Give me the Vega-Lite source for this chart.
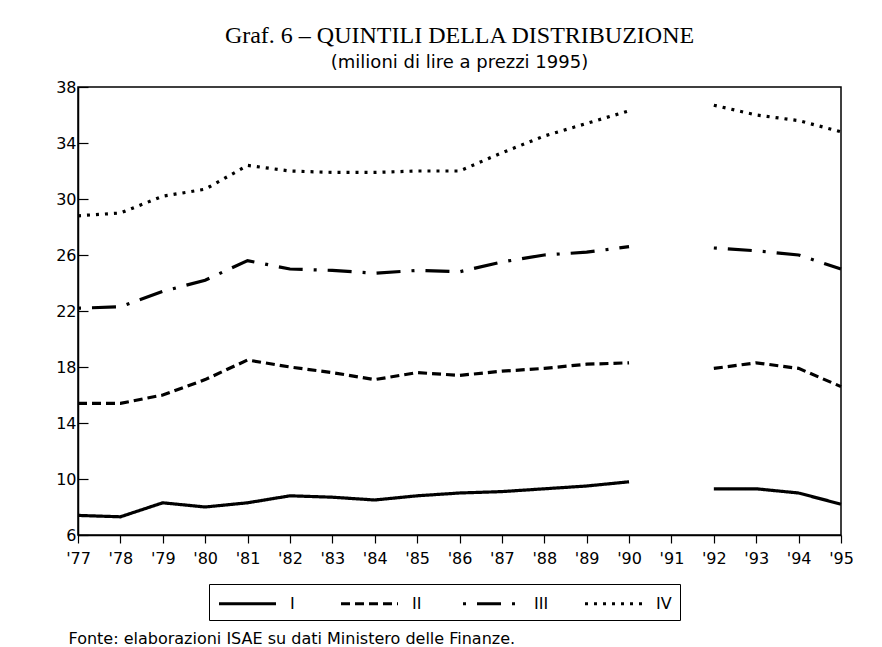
{
  "$schema": "https://vega.github.io/schema/vega-lite/v6.json",
  "autosize": "none",
  "width": 763,
  "height": 448,
  "padding": {"left": 78, "top": 87, "right": 41, "bottom": 112},
  "background": "white",
  "title": {
    "text": "Graf. 6 – QUINTILI DELLA DISTRIBUZIONE",
    "subtitle": "(milioni di lire a prezzi 1995)",
    "font": "Liberation Serif",
    "fontSize": 24,
    "fontWeight": "normal",
    "color": "black",
    "subtitleFont": "DejaVu Sans",
    "subtitleFontSize": 18,
    "subtitleColor": "black",
    "subtitlePadding": 6,
    "anchor": "middle",
    "offset": 7
  },
  "data": {
    "values": [
      {"year": 1977, "q": "I", "v": 7.4}, {"year": 1978, "q": "I", "v": 7.3}, {"year": 1979, "q": "I", "v": 8.3}, {"year": 1980, "q": "I", "v": 8.0}, {"year": 1981, "q": "I", "v": 8.3}, {"year": 1982, "q": "I", "v": 8.8}, {"year": 1983, "q": "I", "v": 8.7}, {"year": 1984, "q": "I", "v": 8.5}, {"year": 1985, "q": "I", "v": 8.8}, {"year": 1986, "q": "I", "v": 9.0}, {"year": 1987, "q": "I", "v": 9.1}, {"year": 1988, "q": "I", "v": 9.3}, {"year": 1989, "q": "I", "v": 9.5}, {"year": 1990, "q": "I", "v": 9.8}, {"year": 1991, "q": "I", "v": null}, {"year": 1992, "q": "I", "v": 9.3}, {"year": 1993, "q": "I", "v": 9.3}, {"year": 1994, "q": "I", "v": 9.0}, {"year": 1995, "q": "I", "v": 8.2},
      {"year": 1977, "q": "II", "v": 15.4}, {"year": 1978, "q": "II", "v": 15.4}, {"year": 1979, "q": "II", "v": 16.0}, {"year": 1980, "q": "II", "v": 17.1}, {"year": 1981, "q": "II", "v": 18.5}, {"year": 1982, "q": "II", "v": 18.0}, {"year": 1983, "q": "II", "v": 17.6}, {"year": 1984, "q": "II", "v": 17.1}, {"year": 1985, "q": "II", "v": 17.6}, {"year": 1986, "q": "II", "v": 17.4}, {"year": 1987, "q": "II", "v": 17.7}, {"year": 1988, "q": "II", "v": 17.9}, {"year": 1989, "q": "II", "v": 18.2}, {"year": 1990, "q": "II", "v": 18.3}, {"year": 1991, "q": "II", "v": null}, {"year": 1992, "q": "II", "v": 17.9}, {"year": 1993, "q": "II", "v": 18.3}, {"year": 1994, "q": "II", "v": 17.9}, {"year": 1995, "q": "II", "v": 16.6},
      {"year": 1977, "q": "III", "v": 22.2}, {"year": 1978, "q": "III", "v": 22.3}, {"year": 1979, "q": "III", "v": 23.4}, {"year": 1980, "q": "III", "v": 24.2}, {"year": 1981, "q": "III", "v": 25.6}, {"year": 1982, "q": "III", "v": 25.0}, {"year": 1983, "q": "III", "v": 24.9}, {"year": 1984, "q": "III", "v": 24.7}, {"year": 1985, "q": "III", "v": 24.9}, {"year": 1986, "q": "III", "v": 24.8}, {"year": 1987, "q": "III", "v": 25.5}, {"year": 1988, "q": "III", "v": 26.0}, {"year": 1989, "q": "III", "v": 26.2}, {"year": 1990, "q": "III", "v": 26.6}, {"year": 1991, "q": "III", "v": null}, {"year": 1992, "q": "III", "v": 26.5}, {"year": 1993, "q": "III", "v": 26.3}, {"year": 1994, "q": "III", "v": 26.0}, {"year": 1995, "q": "III", "v": 25.0},
      {"year": 1977, "q": "IV", "v": 28.8}, {"year": 1978, "q": "IV", "v": 29.0}, {"year": 1979, "q": "IV", "v": 30.2}, {"year": 1980, "q": "IV", "v": 30.7}, {"year": 1981, "q": "IV", "v": 32.4}, {"year": 1982, "q": "IV", "v": 32.0}, {"year": 1983, "q": "IV", "v": 31.9}, {"year": 1984, "q": "IV", "v": 31.9}, {"year": 1985, "q": "IV", "v": 32.0}, {"year": 1986, "q": "IV", "v": 32.0}, {"year": 1987, "q": "IV", "v": 33.3}, {"year": 1988, "q": "IV", "v": 34.5}, {"year": 1989, "q": "IV", "v": 35.4}, {"year": 1990, "q": "IV", "v": 36.3}, {"year": 1991, "q": "IV", "v": null}, {"year": 1992, "q": "IV", "v": 36.7}, {"year": 1993, "q": "IV", "v": 36.0}, {"year": 1994, "q": "IV", "v": 35.6}, {"year": 1995, "q": "IV", "v": 34.8}
    ]
  },
  "mark": {
    "type": "line",
    "color": "black",
    "strokeWidth": 3.2,
    "strokeCap": "butt",
    "invalid": "break-paths-show-domains"
  },
  "encoding": {
    "x": {
      "field": "year",
      "type": "quantitative",
      "scale": {"domain": [1977, 1995], "nice": false, "zero": false},
      "axis": {
        "values": [1977, 1978, 1979, 1980, 1981, 1982, 1983, 1984, 1985, 1986, 1987, 1988, 1989, 1990, 1991, 1992, 1993, 1994, 1995],
        "labelExpr": "\"'\" + substring(toString(datum.value), 2)",
        "grid": false,
        "tickSize": 8,
        "labelPadding": 7,
        "labelFlush": false,
        "labelOverlap": false,
        "title": "Fonte: elaborazioni ISAE su dati Ministero delle Finanze.",
        "titleFont": "DejaVu Sans",
        "titleFontSize": 16,
        "titleFontWeight": "normal",
        "titleColor": "black",
        "titleAlign": "left",
        "titleBaseline": "middle",
        "titleAngle": 0,
        "titleX": -10,
        "titleY": 103
      }
    },
    "y": {
      "field": "v",
      "type": "quantitative",
      "scale": {"domain": [6, 38], "nice": false, "zero": false},
      "axis": {
        "values": [6, 10, 14, 18, 22, 26, 30, 34, 38],
        "grid": false,
        "tickSize": -10,
        "labelPadding": 12,
        "title": null
      }
    },
    "strokeDash": {
      "field": "q",
      "type": "nominal",
      "scale": {
        "domain": ["I", "II", "III", "IV"],
        "range": [[1, 0], [9, 5], [3, 11, 24, 11], [3, 6]]
      },
      "legend": {
        "orient": "none",
        "legendX": 131,
        "legendY": 497,
        "direction": "horizontal",
        "columns": 4,
        "gridAlign": "all",
        "title": null,
        "strokeColor": "black",
        "padding": 8,
        "symbolType": "M-1,0H5",
        "symbolSize": 361,
        "symbolStrokeWidth": 3.2,
        "symbolStrokeColor": "black",
        "symbolFillColor": "transparent",
        "labelFont": "DejaVu Sans",
        "labelFontSize": 16,
        "labelColor": "black",
        "labelOffset": 50,
        "columnPadding": 28
      }
    }
  },
  "config": {
    "view": {"stroke": "black", "strokeWidth": 1.5},
    "axis": {
      "domainColor": "black",
      "domainWidth": 1.5,
      "tickColor": "black",
      "tickWidth": 1.2,
      "labelColor": "black",
      "labelFont": "DejaVu Sans",
      "labelFontSize": 16
    }
  }
}
